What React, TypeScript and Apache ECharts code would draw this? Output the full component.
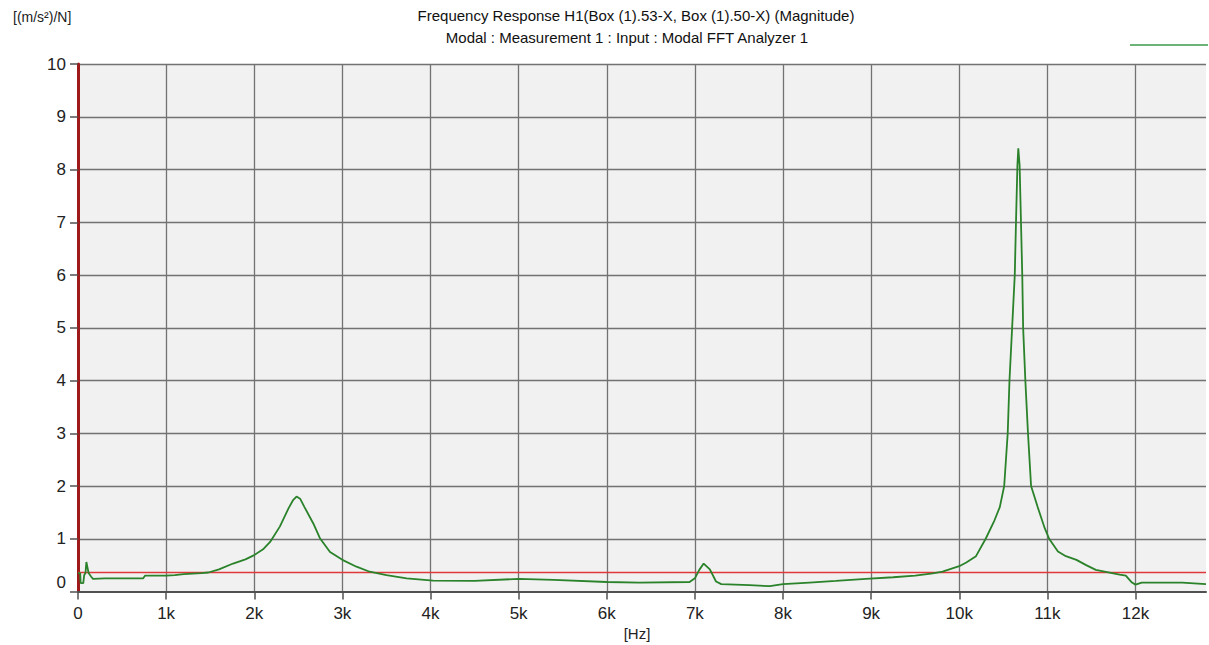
import React, { useEffect, useRef } from "react";
import * as echarts from "echarts";

const titleLine1 = "Frequency Response H1(Box (1).53-X, Box (1).50-X) (Magnitude)";
const titleLine2 = "Modal : Measurement 1 : Input : Modal FFT Analyzer 1";
const yUnit = "[(m/s²)/N]";
const xUnit = "[Hz]";

const xTicksHz = [0, 1000, 2000, 3000, 4000, 5000, 6000, 7000, 8000, 9000, 10000, 11000, 12000];
const yTicks = [0, 1, 2, 3, 4, 5, 6, 7, 8, 9, 10];

const freqHz = [
  0, 25, 30, 60, 70, 85, 95, 120, 150, 170, 300, 500, 740, 760, 1000, 1100, 1200, 1400, 1480,
  1600, 1760, 1900, 2000, 2100, 2180, 2290, 2390, 2440, 2480, 2520, 2570, 2670, 2745, 2860,
  3000, 3160, 3310, 3500, 3730, 4030, 4500, 5000, 5400, 6000, 6370, 6940, 7000, 7050, 7100,
  7170, 7240, 7300, 7620, 7850, 8000, 8300, 8600, 8940, 9250, 9500, 9700, 9810, 10000, 10080,
  10190, 10300, 10400, 10460, 10510, 10550, 10570, 10600, 10630, 10645, 10660, 10670, 10685,
  10695, 10715, 10725, 10750, 10780, 10815, 10890, 10970, 11020, 11120, 11210, 11330, 11440,
  11550, 11820, 11890, 11960, 12000, 12070, 12530, 12800,
];
const magnitude = [
  0.35, 0.35, 0.16, 0.16, 0.31, 0.35, 0.56, 0.35, 0.28, 0.24, 0.25, 0.25, 0.25, 0.3, 0.3, 0.31,
  0.33, 0.35, 0.36, 0.42, 0.53, 0.61, 0.69, 0.8, 0.94, 1.23, 1.58, 1.73, 1.8, 1.76, 1.6, 1.29,
  1.01, 0.75, 0.6, 0.47, 0.375, 0.31, 0.25, 0.205, 0.2, 0.24, 0.22, 0.18, 0.17, 0.18, 0.25, 0.41,
  0.53, 0.42, 0.19, 0.14, 0.12, 0.1, 0.14, 0.17, 0.2, 0.24, 0.27, 0.3, 0.345, 0.375, 0.48, 0.55,
  0.67, 1.0, 1.35, 1.6, 2.0, 3.0, 4.0, 5.0, 6.0, 7.08, 8.08, 8.4, 8.08, 7.39, 6.0, 5.0, 4.0, 3.0,
  2.0, 1.6, 1.2, 1.0, 0.76, 0.67, 0.6, 0.5, 0.41, 0.32, 0.3, 0.17, 0.13, 0.17, 0.17, 0.14,
];
const thresholdLevel = 0.36;
const xRange = [0, 12800];

const FONT = "'Liberation Sans', Arial, sans-serif";

export default function App() {
  const ref = useRef<HTMLDivElement>(null);
  useEffect(() => {
    if (!ref.current) return;
    const chart = echarts.init(ref.current, undefined, { renderer: "svg" });
    const curve = freqHz.map((f, i) => [f, magnitude[i]]);
    chart.setOption({
      animation: false,
      backgroundColor: "#ffffff",
      textStyle: { fontFamily: FONT },
      grid: {
        left: 78,
        right: 3,
        top: 64,
        bottom: 53.5,
        show: true,
        backgroundColor: "#f1f1f1",
        borderWidth: 0,
      },
      xAxis: {
        type: "value",
        min: xRange[0],
        max: xRange[1],
        interval: 1000,
        axisLine: { show: true, onZero: false, lineStyle: { color: "#505050", width: 2 } },
        axisTick: { show: true, length: 8, lineStyle: { color: "#505050", width: 1.5 } },
        axisLabel: {
          margin: 13,
          fontSize: 17,
          color: "#222",
          fontFamily: FONT,
          showMaxLabel: false,
          formatter: (v: number) =>
            xTicksHz.includes(v) ? (v === 0 ? "0" : v / 1000 + "k") : "",
        },
        splitLine: {
          show: true,
          showMinLine: false,
          showMaxLine: false,
          lineStyle: { color: "#727272", width: 1.3 },
        },
      },
      yAxis: {
        type: "value",
        min: yTicks[0],
        max: yTicks[yTicks.length - 1],
        interval: 1,
        axisLine: { show: true, onZero: false, lineStyle: { color: "#9e1a1a", width: 3 } },
        axisTick: { show: true, length: 8, lineStyle: { color: "#505050", width: 1.5 } },
        axisLabel: {
          margin: 12,
          fontSize: 17,
          color: "#222",
          fontFamily: FONT,
          formatter: (v: number) => (v === 0 ? "{z|0}" : String(v)),
          rich: { z: { fontSize: 17, fontFamily: FONT, color: "#222", padding: [0, 0, 18, 0] } },
        },
        splitLine: {
          show: true,
          showMinLine: false,
          lineStyle: { color: "#727272", width: 1.3 },
        },
      },
      series: [
        {
          type: "line",
          data: [
            [xRange[0], thresholdLevel],
            [xRange[1], thresholdLevel],
          ],
          symbol: "none",
          lineStyle: { color: "#e0393b", width: 1.5 },
          z: 2,
        },
        {
          type: "line",
          data: curve,
          symbol: "none",
          lineStyle: { color: "#2a822a", width: 1.8 },
          z: 3,
        },
      ],
      graphic: [
        {
          type: "text",
          left: 13,
          top: 10,
          style: { text: yUnit, font: `14px ${FONT}`, fill: "#222" },
        },
        {
          type: "text",
          x: 636,
          y: 15,
          style: {
            text: titleLine1,
            font: `15px ${FONT}`,
            fill: "#111",
            align: "center",
            verticalAlign: "middle",
          },
        },
        {
          type: "text",
          x: 627,
          y: 37,
          style: {
            text: titleLine2,
            font: `15px ${FONT}`,
            fill: "#111",
            align: "center",
            verticalAlign: "middle",
          },
        },
        {
          type: "text",
          x: 637,
          y: 633,
          style: {
            text: xUnit,
            font: `15px ${FONT}`,
            fill: "#222",
            align: "center",
            verticalAlign: "middle",
          },
        },
        {
          type: "line",
          shape: { x1: 1130, y1: 45, x2: 1208, y2: 45 },
          style: { stroke: "#3a9a48", lineWidth: 1.5 },
        },
      ],
    });
    return () => chart.dispose();
  }, []);
  return (
    <div
      ref={ref}
      style={{ position: "fixed", left: 0, top: 0, width: 1209, height: 645, background: "#fff" }}
    />
  );
}
